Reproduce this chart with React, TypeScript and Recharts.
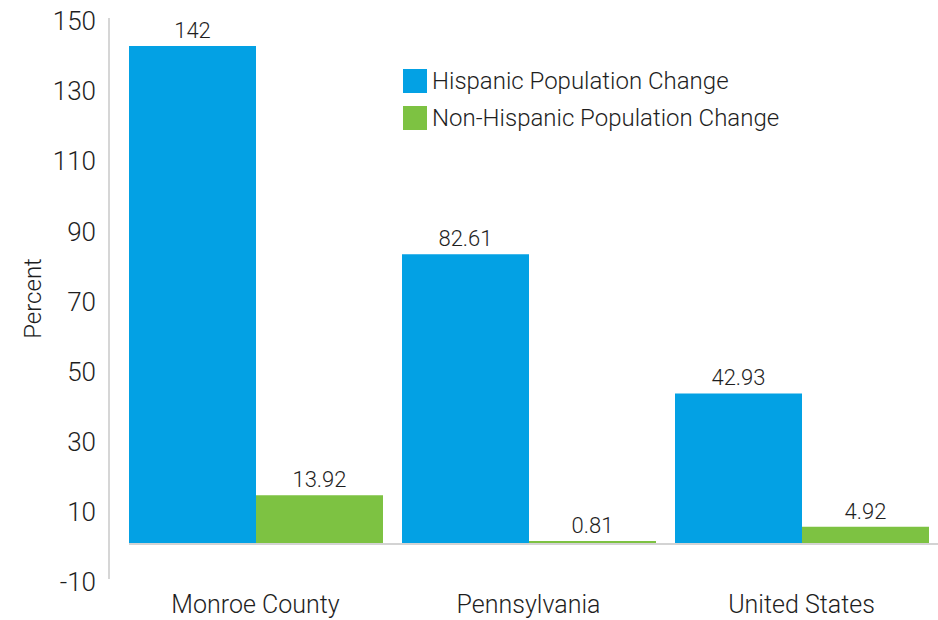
import React from 'react';
import {
  BarChart,
  Bar,
  XAxis,
  YAxis,
  Legend,
  LabelList,
  Label,
  ReferenceLine,
} from 'recharts';

const regions = ['Monroe County', 'Pennsylvania', 'United States'];
const hispanicChange = [142, 82.61, 42.93];
const nonHispanicChange = [13.92, 0.81, 4.92];
const yTicks = [-10, 10, 30, 50, 70, 90, 110, 130, 150];

const data = regions.map((name, i) => ({
  name,
  hispanic: hispanicChange[i],
  nonHispanic: nonHispanicChange[i],
}));

const FONT = "Roboto, 'Liberation Sans', sans-serif";
const BLUE = '#03a1e4';
const GREEN = '#7dc242';
const TEXT = '#1e1e1e';

function LegendBox({ payload }: any) {
  return (
    <div style={{ fontFamily: FONT, fontSize: 24, fontWeight: 300, color: TEXT }}>
      {(payload || []).map((entry: any) => (
        <div
          key={entry.value}
          style={{ display: 'flex', alignItems: 'center', height: 37, whiteSpace: 'nowrap' }}
        >
          <span
            style={{ width: 24, height: 24, background: entry.color, marginRight: 5, display: 'inline-block' }}
          />
          <span>{entry.value}</span>
        </div>
      ))}
    </div>
  );
}

// baseline at zero starts at the first bar, not at the y axis
function ZeroLine(props: any) {
  return (
    <line
      x1={props.x1 + 20}
      y1={props.y1}
      x2={props.x2}
      y2={props.y2}
      stroke="#d3d3d3"
      strokeWidth={2}
    />
  );
}

const labelStyle = { fontFamily: FONT, fontSize: 22, fontWeight: 300, fill: TEXT };

export default function App() {
  return (
    <div style={{ position: 'absolute', left: 0, top: 0, background: '#fff' }}>
      <BarChart
        width={938}
        height={620}
        data={data}
        margin={{ top: 18, right: 0, bottom: 0, left: 0 }}
        barGap={0}
        barCategoryGap={10}
      >
        <XAxis
          dataKey="name"
          height={41}
          axisLine={false}
          tickLine={false}
          tickSize={0}
          tickMargin={16}
          padding={{ left: 10, right: 0 }}
          tick={{ fontFamily: FONT, fontSize: 25, fontWeight: 300, fill: TEXT }}
        />
        <YAxis
          width={109}
          domain={[-10, 150]}
          ticks={yTicks}
          interval={0}
          tickLine={false}
          tickSize={0}
          tickMargin={13}
          axisLine={{ stroke: '#c8c8c8', strokeWidth: 1.5 }}
          tick={{ fontFamily: FONT, fontSize: 26, fontWeight: 300, fill: TEXT, dy: 3 }}
        >
          <Label
            value="Percent"
            angle={-90}
            position="insideLeft"
            offset={32}
            style={{ textAnchor: 'middle', fontFamily: FONT, fontSize: 24, fontWeight: 300, fill: TEXT }}
          />
        </YAxis>
        <ReferenceLine y={0} shape={<ZeroLine />} />
        <Legend
          layout="vertical"
          align="center"
          verticalAlign="middle"
          content={<LegendBox />}
          wrapperStyle={{ left: 403, top: 62, width: 'auto' }}
        />
        <Bar
          dataKey="hispanic"
          name="Hispanic Population Change"
          fill={BLUE}
          barSize={127}
          isAnimationActive={false}
        >
          <LabelList dataKey="hispanic" position="top" offset={8} style={labelStyle} />
        </Bar>
        <Bar
          dataKey="nonHispanic"
          name="Non-Hispanic Population Change"
          fill={GREEN}
          barSize={127}
          isAnimationActive={false}
        >
          <LabelList dataKey="nonHispanic" position="top" offset={8} style={labelStyle} />
        </Bar>
      </BarChart>
    </div>
  );
}
